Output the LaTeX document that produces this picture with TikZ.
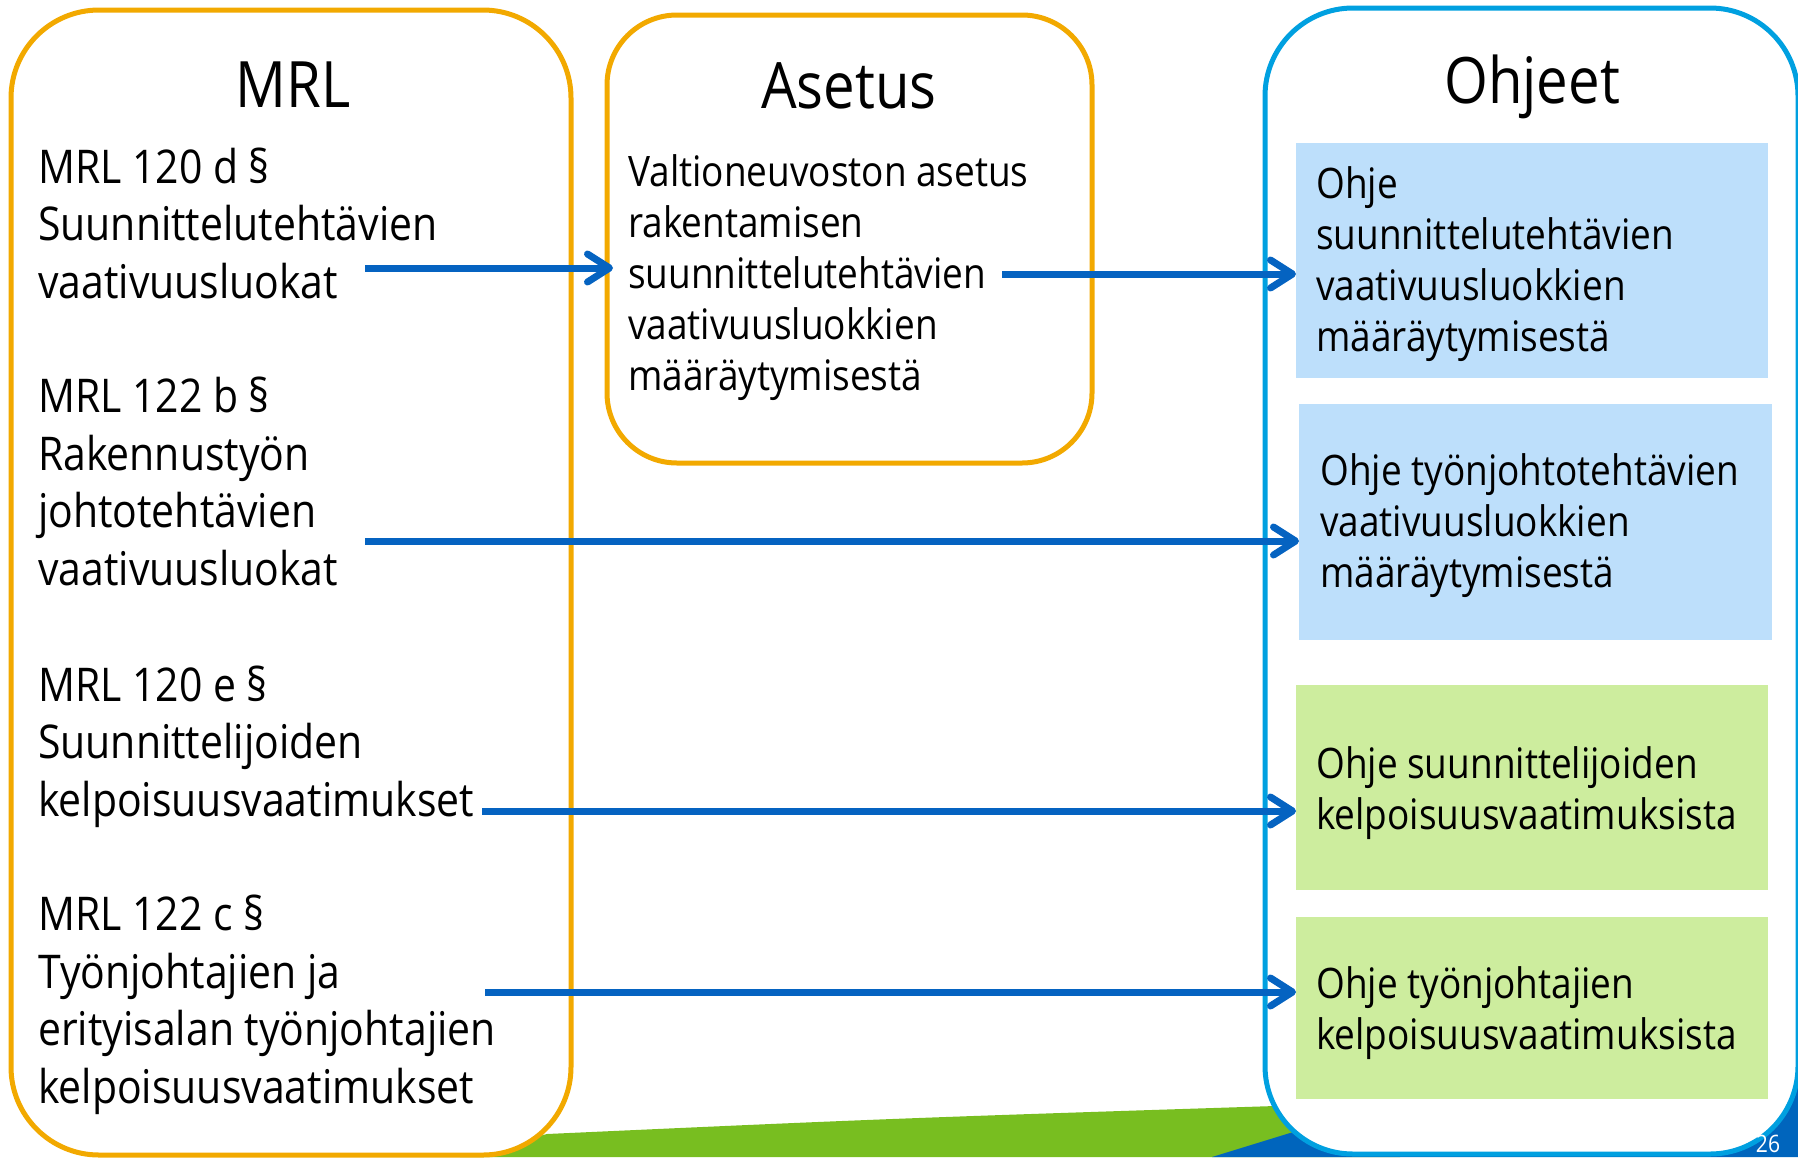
\documentclass[tikz,border=0pt]{standalone}
\usepackage{fontspec}
\setmainfont{Open Sans}[FakeStretch=0.88]
\usetikzlibrary{arrows.meta}
\definecolor{orng}{RGB}{242,169,0}
\definecolor{cyanb}{RGB}{0,160,224}
\definecolor{lblue}{RGB}{189,223,251}
\definecolor{lgreen}{RGB}{205,237,158}
\definecolor{swgreen}{RGB}{120,190,32}
\definecolor{dblue}{RGB}{0,101,189}
\definecolor{arrblue}{RGB}{5,99,193}
\begin{document}
\begin{tikzpicture}[x=1pt,y=-1pt,
  bigbox/.style={draw, line width=5pt, fill=white, anchor=north west, inner sep=0pt, outer sep=0pt},
  fillbox/.style={anchor=north west, inner sep=0pt, outer sep=0pt},
  title/.style={anchor=base, inner sep=0pt, font=\fontsize{64}{70}\selectfont},
  mrltxt/.style={anchor=base west, align=left, inner sep=0pt, font=\fontsize{46.5}{57.5}\selectfont},
  smalltxt/.style={anchor=base west, align=left, inner sep=0pt, font=\fontsize{42}{51}\selectfont},
  link/.style={draw=arrblue, line width=7pt, -{Straight Barb[length=22pt,width=28pt,round]}}
]
\useasboundingbox (0,0) rectangle (1798,1157);
% background swooshes
\fill[swgreen] (460,1157) -- (547,1134) .. controls (900,1118) .. (1400,1102) -- (1400,1157) -- cycle;
\fill[dblue] (1212,1157) -- (1290,1133) -- (1798,1000) -- (1798,1157) -- cycle;
% main boxes
\node[bigbox, draw=orng, rounded corners=88pt, minimum width=560pt, minimum height=1145pt] (mrlbox) at (11,10) {};
\node[bigbox, draw=orng, rounded corners=70pt, minimum width=485pt, minimum height=448pt] (asetbox) at (607,15) {};
\node[bigbox, draw=cyanb, rounded corners=88pt, minimum width=533pt, minimum height=1146pt] (ohjbox) at (1265,8) {};
% coloured boxes
\node[fillbox, fill=lblue, minimum width=472pt, minimum height=235pt] (b1) at (1296,143) {};
\node[fillbox, fill=lblue, minimum width=473pt, minimum height=236pt] (b2) at (1299,404) {};
\node[fillbox, fill=lgreen, minimum width=472pt, minimum height=205pt] (g1) at (1296,685) {};
\node[fillbox, fill=lgreen, minimum width=472pt, minimum height=182pt] (g2) at (1296,917) {};
% titles
\node[title] (tmrl) at (293,107) {MRL};
\node[title] (taset) at (849,108) {Asetus};
\node[title] (tohj) at (1532,103) {Ohjeet};
% MRL texts (anchored at the baseline of the last line)
\node[mrltxt] (mrlA) at (38,298) {MRL 120 d §\\Suunnittelutehtävien\\vaativuusluokat};
\node[mrltxt] (mrlB) at (38,585) {MRL 122 b §\\Rakennustyön\\johtotehtävien\\vaativuusluokat};
\node[mrltxt] (mrlC) at (38,816) {MRL 120 e §\\Suunnittelijoiden\\kelpoisuusvaatimukset};
\node[mrltxt] (mrlD) at (38,1103) {MRL 122 c §\\Työnjohtajien ja\\erityisalan työnjohtajien\\kelpoisuusvaatimukset};
% Asetus text
\node[smalltxt, font=\fontsize{42}{50.8}\selectfont] (asettxt) at (628,390) {Valtioneuvoston asetus\\rakentamisen\\suunnittelutehtävien\\vaativuusluokkien\\määräytymisestä};
% Ohjeet texts
\node[smalltxt] (t1) at (1316,351) {Ohje\\suunnittelutehtävien\\vaativuusluokkien\\määräytymisestä};
\node[smalltxt] (t2) at (1320,587) {Ohje työnjohtotehtävien\\vaativuusluokkien\\määräytymisestä};
\node[smalltxt] (t3) at (1316,829) {Ohje suunnittelijoiden\\kelpoisuusvaatimuksista};
\node[smalltxt] (t4) at (1316,1049) {Ohje työnjohtajien\\kelpoisuusvaatimuksista};
% arrows
\coordinate (s1) at (365,268);
\coordinate (s2) at (1002,274);
\coordinate (s3) at (365,541);
\coordinate (s4) at (482,811);
\coordinate (s5) at (485,992);
\draw[link] (s1) -- ([xshift=6pt]s1 -| asetbox.west);
\draw[link] (s2) -- (s2 -| b1.west);
\draw[link] (s3) -- (s3 -| b2.west);
\draw[link] (s4) -- (s4 -| g1.west);
\draw[link] (s5) -- (s5 -| g2.west);
% page number
\node[anchor=base, inner sep=0pt, text=white, font=\fontsize{24}{24}\selectfont] (pg) at (1768,1152) {26};
\end{tikzpicture}
\end{document}
